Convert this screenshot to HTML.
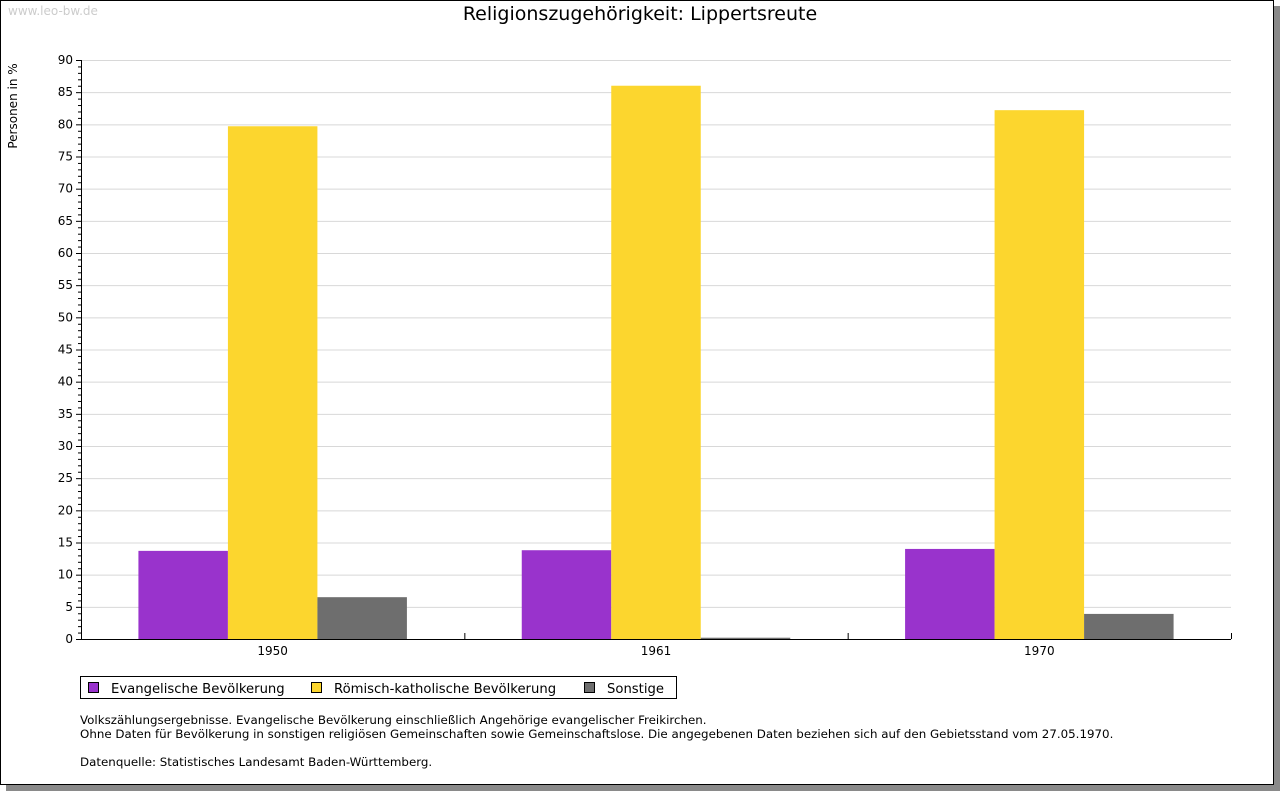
<!DOCTYPE html>
<html><head><meta charset="utf-8"><style>
body{margin:0;background:#fff;font-family:"Liberation Sans","DejaVu Sans",sans-serif;}
#wrap{position:relative;width:1280px;height:791px;overflow:hidden;}
#shadow{position:absolute;left:6px;top:6px;width:1274px;height:785px;background:#8a8a8a;}
#frame{position:absolute;left:0;top:0;width:1272px;height:783px;border:1px solid #000;background:#fff;}
.t{position:absolute;font-family:"DejaVu Sans","Liberation Sans",sans-serif;font-size:12px;color:#000;white-space:nowrap;}
</style></head><body>
<div id="wrap">
<div id="shadow"></div>
<div id="frame"></div>
<div class="t" style="left:8px;top:4px;color:#ccc;font-size:12px">www.leo-bw.de</div>
<div class="t" style="left:0;width:1280px;text-align:center;top:3px;font-size:19px">Religionszugehörigkeit: Lippertsreute</div>
<svg id="chart" width="1280" height="791" style="position:absolute;left:0;top:0"></svg>
<div style="position:absolute;left:80px;top:676px;width:595px;height:21px;border:1px solid #000;"></div>
<div class="t" style="left:80px;top:713px;font-size:11.85px;line-height:14px">Volkszählungsergebnisse. Evangelische Bevölkerung einschließlich Angehörige evangelischer Freikirchen.<br>Ohne Daten für Bevölkerung in sonstigen religiösen Gemeinschaften sowie Gemeinschaftslose. Die angegebenen Daten beziehen sich auf den Gebietsstand vom 27.05.1970.<br><br>Datenquelle: Statistisches Landesamt Baden-Württemberg.</div>
</div>
<script>
const categories=["1950","1961","1970"];
const seriesNames=["Evangelische Bevölkerung","Römisch-katholische Bevölkerung","Sonstige"];
const evangelisch=[13.7,13.8,14.0];
const katholisch=[79.7,86.0,82.2];
const sonstige=[6.5,0.2,3.9];
const yTicks=[0,5,10,15,20,25,30,35,40,45,50,55,60,65,70,75,80,85,90];
const colors=["#9933cc","#fcd62e","#6e6e6e"];
const NS="http://www.w3.org/2000/svg";
const svg=document.getElementById('chart');
const X0=81,X1=1231,Y0=639,Y1=60,YMAX=90;
const y=v=>Y0-(v/YMAX)*(Y0-Y1);
const gw=(X1-X0)/categories.length;
const bw=89.5;
function mk(tag,attrs){const e=document.createElementNS(NS,tag);for(const k in attrs)e.setAttribute(k,attrs[k]);svg.appendChild(e);return e;}
function txt(x,yy,s,anchor,size){const e=mk('text',{x:x,y:yy,'text-anchor':anchor,'font-size':size||12,'font-family':'DejaVu Sans, Liberation Sans, sans-serif'});e.textContent=s;return e;}
yTicks.forEach(v=>{
 if(v>0){const g=mk('line',{x1:X0,x2:X1,y1:y(v)+0.5,y2:y(v)+0.5,stroke:'#d8d8d8'});
 
 }
 const l=txt(X0-8,y(v)+4,String(v),'end',12);
 
 
 mk('line',{x1:X0-5,x2:X0,y1:y(v)+0.5,y2:y(v)+0.5,stroke:'#000'});
});
for(let v=1;v<YMAX;v++){if(v%5)mk('line',{x1:X0-3,x2:X0,y1:y(v)+0.5,y2:y(v)+0.5,stroke:'#000'});}
const series=[evangelisch,katholisch,sonstige];
categories.forEach((c,i)=>{
 const start=X0+gw*i+(gw-3*bw)/2;
 series.forEach((s,j)=>{
  const r=mk('rect',{x:start+j*bw,y:y(s[i]),width:bw,height:Y0-y(s[i]),fill:colors[j]});
  
  
 });
 const l=txt(X0+gw*(i+0.5),655,c,'middle',12);
 
 
 mk('line',{x1:X0+gw*(i+1)+0.5,x2:X0+gw*(i+1)+0.5,y1:Y0-6,y2:Y0,stroke:'#000'});
});
const ax=mk('line',{x1:X0+0.5,x2:X0+0.5,y1:Y1,y2:Y0+0.5,stroke:'#000'});


const xa=mk('line',{x1:X0,x2:X1,y1:Y0+0.5,y2:Y0+0.5,stroke:'#000'});


const yt=txt(0,0,'Personen in %','middle',12);
yt.setAttribute('transform','translate(17,106) rotate(-90)');


const lx=[88,311,584];
seriesNames.forEach((n,j)=>{
 const r=mk('rect',{x:lx[j]+0.5,y:682.5,width:10,height:10,fill:colors[j],stroke:'#000'});
 
 
 const t=txt(lx[j]+23,693,n,'start',13.2);
 
 
});
</script>
</body></html>
